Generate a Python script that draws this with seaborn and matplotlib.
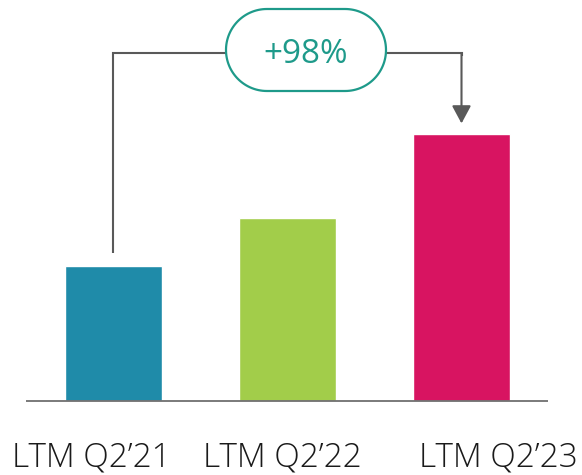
import matplotlib
matplotlib.use("Agg")
import numpy as np
import matplotlib.pyplot as plt
import seaborn as sns
from matplotlib.patches import Polygon
from matplotlib.transforms import IdentityTransform

# ---- data ----
categories = ["LTM Q2\u201921", "LTM Q2\u201922", "LTM Q2\u201923"]
values = [100, 136, 198]
colors = ["#1F8BA9", "#A2CD4A", "#D81461"]

sns.set_theme(style="white")
plt.rcParams['font.family'] = ['Open Sans', 'DejaVu Sans']

W, H = 582, 475
fig = plt.figure(figsize=(W / 100, H / 100), dpi=100)
ax = fig.add_axes([0, 0, 1, 1])

sns.barplot(x=categories, y=values, hue=categories, palette=colors,
            saturation=1, width=0.557, legend=False, ax=ax, zorder=2)

# pixel mapping: bar centers at 113.5 + 174*i, zero line at 400.5, 1.345 px per unit
px_per_x = 174.0
x0_px = 113.5
px_per_y = 1.345
y0_px = 400.5
ax.set_xlim(-x0_px / px_per_x, (W - x0_px) / px_per_x)
ax.set_ylim(-(H - y0_px) / px_per_y, y0_px / px_per_y)
ax.axis("off")

# baseline
ax.plot([(26 - x0_px) / px_per_x, (548 - x0_px) / px_per_x], [0, 0],
        color="#707070", lw=1.3, zorder=3, solid_capstyle="butt")

# category labels
offsets = [-22, -5, 37]
for i, (lab, dx) in enumerate(zip(categories, offsets)):
    ax.annotate(lab, xy=(i, 0), xytext=(dx, -(467 - y0_px)),
                textcoords="offset pixels", ha="center", va="baseline",
                fontsize=24, fontweight="light", color="#1a1a1a")

# bracket
gray = "#595959"
start = values[0] + 10
top = max(values) + 60
tip = values[2] + 8
ax.plot([0, 0, 2, 2], [start, top, top, top - 2], color=gray, lw=1.5,
        zorder=4, solid_joinstyle="miter", solid_capstyle="butt")
ax.annotate("", xy=(2, tip), xytext=(2, top),
            arrowprops=dict(arrowstyle="-|>,head_length=1.08,head_width=0.58",
                            color=gray, lw=1.5, shrinkA=0, shrinkB=0,
                            mutation_scale=10),
            zorder=4)

# pill (stadium shape, in pixel coords)
teal = "#1E9A8A"
pl, pr, pb, pt = 226, 386, H - 91, H - 9
r = (pt - pb) / 2
cy = (pt + pb) / 2
th_r = np.linspace(-np.pi / 2, np.pi / 2, 60)
th_l = np.linspace(np.pi / 2, 3 * np.pi / 2, 60)
pts = np.concatenate([
    np.column_stack([pr - r + r * np.cos(th_r), cy + r * np.sin(th_r)]),
    np.column_stack([pl + r + r * np.cos(th_l), cy + r * np.sin(th_l)]),
])
pill = Polygon(pts, closed=True, transform=IdentityTransform(),
               facecolor="white", edgecolor=teal, lw=1.6, zorder=5)
ax.add_artist(pill)
growth = round((values[2] / values[0] - 1) * 100)
ax.text(306, H - 63, f"+{growth}%", transform=IdentityTransform(),
        ha="center", va="baseline", fontsize=24, color=teal, zorder=6)

fig.savefig("out.png", dpi=100)
